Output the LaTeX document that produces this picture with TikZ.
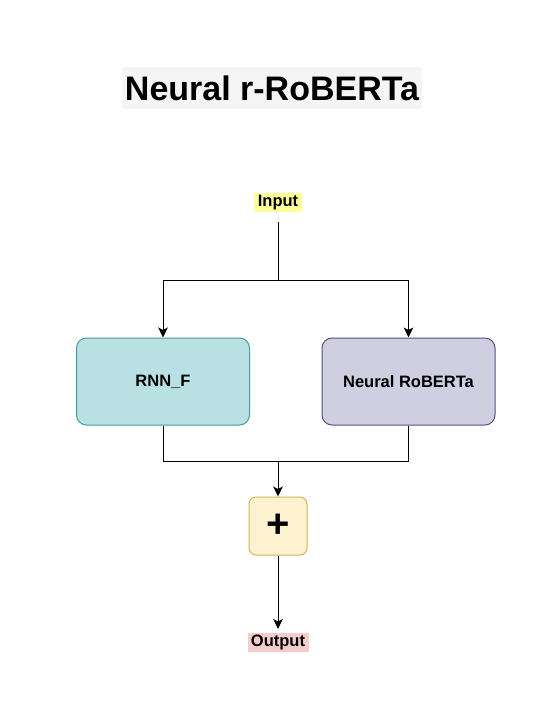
\documentclass[tikz,border=0pt]{standalone}
\usepackage{fontspec}
\setmainfont{Liberation Sans}
\usetikzlibrary{arrows.meta}
\definecolor{titlebg}{HTML}{F5F5F5}
\definecolor{inbg}{HTML}{FFFF99}
\definecolor{outbg}{HTML}{F4CCCC}
\definecolor{rnnfill}{HTML}{B9E0E3}
\definecolor{rnndraw}{HTML}{4A9A9E}
\definecolor{robfill}{HTML}{D0CFE2}
\definecolor{robdraw}{HTML}{56517E}
\definecolor{plusfill}{HTML}{FDF2D0}
\definecolor{plusdraw}{HTML}{D6B656}
\tikzset{
  lbl/.style={font=\bfseries\fontsize{16.5}{18}\selectfont, inner sep=0pt, text height=12pt, text depth=3.5pt},
  blk/.style={rounded corners=10pt, line width=1pt, minimum width=173pt, minimum height=87pt, font=\bfseries\fontsize{16.5}{18}\selectfont},
  conn/.style={line width=1pt},
  arr/.style={conn, -{Stealth[length=10pt,width=9.5pt,inset=2.5pt]}}
}
\begin{document}
\begin{tikzpicture}[x=1pt,y=-1pt]
\useasboundingbox (0,0) rectangle (554,716);
\fill[white] (0,0) rectangle (554,716);
% title
\node[fill=titlebg, minimum width=300pt, minimum height=42pt, inner sep=0pt, font=\bfseries\fontsize{34}{38}\selectfont] (title) at (272,88) {Neural r-RoBERTa};
% input
\node[lbl, fill=inbg, minimum width=48pt, minimum height=19pt] (in) at (278,202) {Input};
\coordinate (inb) at (278,222);
\coordinate (split) at (278,280);
% boxes
\node[blk, fill=rnnfill, draw=rnndraw] (rnn) at (163,381.5) {RNN\_F};
\node[blk, fill=robfill, draw=robdraw] (rob) at (408.5,381.5) {Neural RoBERTa};
% plus
\node[rounded corners=7pt, line width=1pt, fill=plusfill, draw=plusdraw, minimum width=58pt, minimum height=58pt, inner sep=0pt, font=\bfseries\fontsize{40}{40}\selectfont] (plus) at (278,526) {+};
% output
\node[lbl, fill=outbg, minimum width=61pt, minimum height=19pt] (out) at (278,642) {Output};
\coordinate (outt) at (278,629);
% connectors
\draw[conn] (inb) -- (split);
\draw[arr] (split) -| (rnn.north);
\draw[arr] (split) -| (rob.north);
\coordinate (merge) at (278,461);
\draw[conn] (rnn.south) |- (merge);
\draw[conn] (rob.south) |- (merge);
\draw[arr] (merge) -- (plus.north);
\draw[arr] (plus.south) -- (outt);
\end{tikzpicture}
\end{document}
